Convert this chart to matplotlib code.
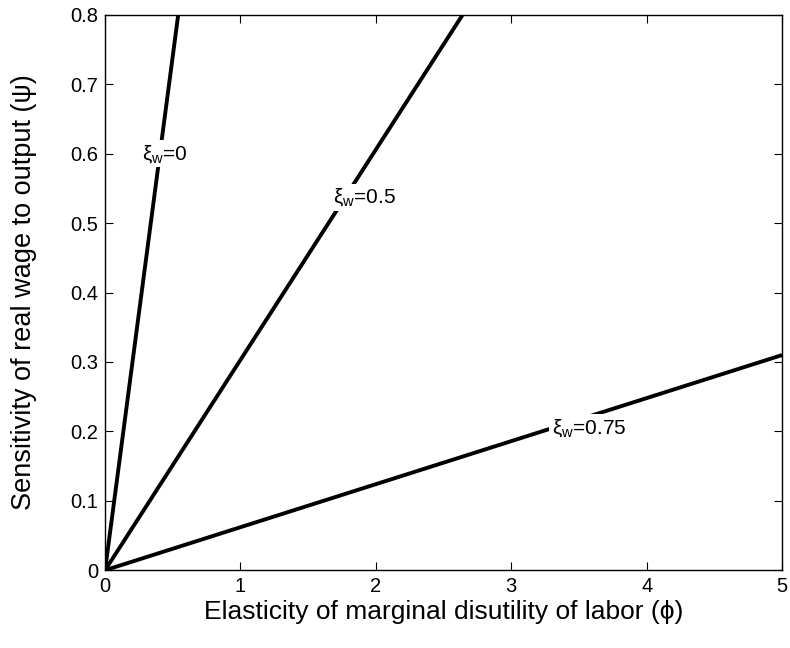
import matplotlib

matplotlib.use("Agg")
import matplotlib.pyplot as plt  # noqa: E402
from matplotlib.ticker import FormatStrFormatter  # noqa: E402

plt.rcParams["font.family"] = ["Liberation Sans", "DejaVu Sans"]
plt.rcParams["mathtext.fontset"] = "custom"
plt.rcParams["mathtext.rm"] = "Liberation Sans"
plt.rcParams["mathtext.it"] = "Liberation Sans"

# each line runs from the origin to where it leaves the box
phi_lines = [[0.0, 0.54], [0.0, 2.64], [0.0, 5.0]]
psi_lines = [[0.0, 0.80], [0.0, 0.80], [0.0, 0.31]]
line_labels = [r"$\xi_{\rm w}$=0", r"$\xi_{\rm w}$=0.5", r"$\xi_{\rm w}$=0.75"]
label_phi = [0.27, 1.68, 3.30]
label_psi = [0.60, 0.537, 0.205]

xticks = [0, 1, 2, 3, 4, 5]
yticks = [0, 0.1, 0.2, 0.3, 0.4, 0.5, 0.6, 0.7, 0.8]

fig = plt.figure(figsize=(7.9, 6.48), dpi=100)
ax = fig.add_axes([0.133, 0.120, 0.857, 0.857])

for x, y in zip(phi_lines, psi_lines):
    ax.plot(x, y, color="k", lw=2.8, solid_capstyle="butt")

for s, x, y in zip(line_labels, label_phi, label_psi):
    ax.text(x, y, s, fontsize=15, ha="left", va="center", zorder=5,
            bbox=dict(facecolor="white", edgecolor="none", pad=2))

ax.set_xlim(0, 5)
ax.set_ylim(0, 0.8)
ax.set_xticks(xticks)
ax.set_yticks(yticks)
ax.yaxis.set_major_formatter(FormatStrFormatter("%g"))
ax.tick_params(direction="in", top=True, right=True, length=6, width=0.8,
               labelsize=14.5, pad=5)
for sp in ax.spines.values():
    sp.set_linewidth(1.0)

ax.set_xlabel("Elasticity of marginal disutility of labor (ϕ)", fontsize=19, labelpad=3)
ax.set_ylabel("Sensitivity of real wage to output (ψ)", fontsize=19.5, labelpad=24)

fig.savefig("out.png", dpi=100)
plt.close(fig)
